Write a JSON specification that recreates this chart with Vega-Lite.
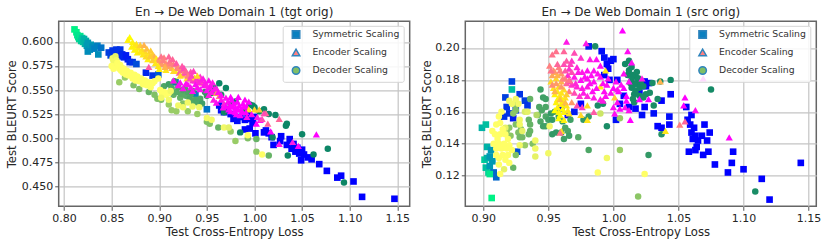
{
"$schema":"https://vega.github.io/schema/vega-lite/v6.json",
"background":"white",
"padding":{"left":5.7,"top":5.3,"right":5,"bottom":2},
"spacing":9.6,
"resolve":{"scale":{"fill":"independent","shape":"independent","color":"independent"},"legend":{"fill":"independent","shape":"independent"}},
"config":{"font":"DejaVu Sans",
"view":{"stroke":"#666666","strokeWidth":1.5},
"axis":{"grid":true,"gridColor":"#c4c4c4","gridWidth":1.2,"domain":false,"tickColor":"#555555","tickSize":4,"labelFontSize":11,"labelColor":"#262626","titleFontSize":11.7,"titleFontWeight":"normal","titleColor":"#262626","labelPadding":2},
"title":{"fontSize":12,"fontWeight":"normal","color":"#262626","offset":2},
"legend":{"orient":"none","labelFontSize":9.3,"labelColor":"#333333","title":null,"symbolSize":56,"rowPadding":4,"fillColor":"rgba(255,255,255,0.85)","strokeColor":"#d5d5d5","padding":4,"cornerRadius":2,"labelOffset":11.7,"symbolOffset":4.7}},
"datasets":{
"aS":[{"x":0.811,"y":0.613,"t":0.95},{"x":0.813,"y":0.61,"t":0.95},{"x":0.814,"y":0.607,"t":0.9},{"x":0.815,"y":0.605,"t":0.9},{"x":0.816,"y":0.603,"t":0.85},{"x":0.817,"y":0.606,"t":0.9},{"x":0.818,"y":0.601,"t":0.8},{"x":0.819,"y":0.604,"t":0.8},{"x":0.82,"y":0.6,"t":0.75},{"x":0.821,"y":0.603,"t":0.7},{"x":0.822,"y":0.598,"t":0.7},{"x":0.823,"y":0.601,"t":0.7},{"x":0.824,"y":0.596,"t":0.6},{"x":0.825,"y":0.599,"t":0.6},{"x":0.825,"y":0.59,"t":0.55},{"x":0.827,"y":0.592,"t":0.55},{"x":0.828,"y":0.597,"t":0.6},{"x":0.83,"y":0.595,"t":0.55},{"x":0.832,"y":0.593,"t":0.5},{"x":0.835,"y":0.596,"t":0.5},{"x":0.836,"y":0.587,"t":0.55},{"x":0.839,"y":0.594,"t":0.45},{"x":0.847,"y":0.589,"t":0.25},{"x":0.849,"y":0.586,"t":0.25},{"x":0.851,"y":0.591,"t":0.2},{"x":0.853,"y":0.588,"t":0.2},{"x":0.855,"y":0.592,"t":0.2},{"x":0.857,"y":0.589,"t":0.2},{"x":0.859,"y":0.592,"t":0.2},{"x":0.858,"y":0.585,"t":0.15},{"x":0.861,"y":0.587,"t":0.15},{"x":0.863,"y":0.584,"t":0.15},{"x":0.865,"y":0.586,"t":0.1},{"x":0.867,"y":0.582,"t":0.1},{"x":0.869,"y":0.579,"t":0.15},{"x":0.872,"y":0.579,"t":0.2},{"x":0.876,"y":0.577,"t":0.3},{"x":0.886,"y":0.568,"t":0.15},{"x":0.893,"y":0.565,"t":0.2},{"x":0.899,"y":0.566,"t":0.35},{"x":0.917,"y":0.558,"t":0.4},{"x":0.95,"y":0.53,"t":0.45},{"x":0.938,"y":0.546,"t":0.5},{"x":0.963,"y":0.534,"t":0.05},{"x":0.965,"y":0.529,"t":0.05},{"x":0.968,"y":0.527,"t":0.02},{"x":0.972,"y":0.53,"t":0.05},{"x":0.975,"y":0.525,"t":0.02},{"x":0.978,"y":0.52,"t":0.02},{"x":0.982,"y":0.518,"t":0.05},{"x":0.985,"y":0.522,"t":0.05},{"x":0.988,"y":0.527,"t":0},{"x":0.99,"y":0.519,"t":0},{"x":0.993,"y":0.524,"t":0.02},{"x":0.996,"y":0.52,"t":0},{"x":0.998,"y":0.516,"t":0},{"x":1.0,"y":0.522,"t":0},{"x":0.99,"y":0.509,"t":0},{"x":0.995,"y":0.51,"t":0},{"x":1.001,"y":0.505,"t":0},{"x":1.01,"y":0.506,"t":0},{"x":1.012,"y":0.508,"t":0.02},{"x":1.015,"y":0.505,"t":0},{"x":1.018,"y":0.501,"t":0},{"x":1.02,"y":0.493,"t":0},{"x":1.027,"y":0.497,"t":0},{"x":1.028,"y":0.502,"t":0},{"x":1.034,"y":0.493,"t":0},{"x":1.037,"y":0.499,"t":0},{"x":1.039,"y":0.489,"t":0},{"x":1.041,"y":0.494,"t":0},{"x":1.043,"y":0.486,"t":0},{"x":1.045,"y":0.49,"t":0},{"x":1.047,"y":0.484,"t":0},{"x":1.049,"y":0.477,"t":0},{"x":1.05,"y":0.488,"t":0},{"x":1.052,"y":0.483,"t":0},{"x":1.056,"y":0.48,"t":0},{"x":1.06,"y":0.478,"t":0},{"x":1.068,"y":0.473,"t":0},{"x":1.076,"y":0.466,"t":0},{"x":1.087,"y":0.459,"t":0},{"x":1.091,"y":0.461,"t":0},{"x":1.104,"y":0.455,"t":0},{"x":1.113,"y":0.439,"t":0},{"x":1.147,"y":0.437,"t":0}],
"aD":[{"x":0.915,"y":0.545,"t":0.4},{"x":0.922,"y":0.542,"t":0.4},{"x":0.927,"y":0.551,"t":0.3},{"x":0.933,"y":0.545,"t":0.3},{"x":0.936,"y":0.538,"t":0.35},{"x":0.943,"y":0.541,"t":0.3},{"x":0.95,"y":0.544,"t":0.2},{"x":0.958,"y":0.552,"t":0.1},{"x":0.965,"y":0.545,"t":0.1},{"x":0.975,"y":0.535,"t":0.1},{"x":1.0,"y":0.532,"t":0.05},{"x":0.905,"y":0.554,"t":0.3},{"x":0.91,"y":0.556,"t":0.25},{"x":0.913,"y":0.552,"t":0.3},{"x":0.916,"y":0.559,"t":0.2},{"x":0.918,"y":0.548,"t":0.35},{"x":0.92,"y":0.553,"t":0.3},{"x":0.923,"y":0.546,"t":0.35},{"x":0.925,"y":0.55,"t":0.3},{"x":0.928,"y":0.544,"t":0.35},{"x":0.93,"y":0.548,"t":0.3},{"x":0.932,"y":0.541,"t":0.3},{"x":0.935,"y":0.549,"t":0.25},{"x":0.938,"y":0.54,"t":0.3},{"x":0.94,"y":0.537,"t":0.3},{"x":0.945,"y":0.536,"t":0.25},{"x":0.948,"y":0.548,"t":0.2},{"x":0.955,"y":0.547,"t":0.15},{"x":0.963,"y":0.557,"t":0.05},{"x":0.97,"y":0.552,"t":0.05},{"x":0.968,"y":0.527,"t":0.05},{"x":0.98,"y":0.538,"t":0.05},{"x":0.985,"y":0.506,"t":0.05},{"x":0.99,"y":0.53,"t":0.05},{"x":0.995,"y":0.535,"t":0.05},{"x":0.998,"y":0.534,"t":0.05},{"x":1.005,"y":0.528,"t":0.05},{"x":1.01,"y":0.53,"t":0.05},{"x":1.015,"y":0.525,"t":0.05},{"x":1.022,"y":0.524,"t":0.05},{"x":1.033,"y":0.513,"t":0.05},{"x":1.034,"y":0.515,"t":0.05},{"x":1.05,"y":0.504,"t":0.05},{"x":1.077,"y":0.489,"t":0.05},{"x":1.062,"y":0.483,"t":0.05},{"x":1.035,"y":0.482,"t":0.05},{"x":1.019,"y":0.501,"t":0.05},{"x":1.094,"y":0.454,"t":0.05},{"x":0.858,"y":0.558,"t":0.6},{"x":0.864,"y":0.563,"t":0.6},{"x":0.873,"y":0.555,"t":0.5},{"x":0.879,"y":0.551,"t":0.5},{"x":0.889,"y":0.548,"t":0.4},{"x":0.895,"y":0.545,"t":0.5},{"x":0.898,"y":0.541,"t":0.5},{"x":0.902,"y":0.54,"t":0.5},{"x":0.91,"y":0.535,"t":0.6},{"x":0.913,"y":0.529,"t":0.6},{"x":0.918,"y":0.528,"t":0.6},{"x":0.925,"y":0.536,"t":0.5},{"x":0.93,"y":0.528,"t":0.6},{"x":0.94,"y":0.525,"t":0.6},{"x":0.95,"y":0.517,"t":0.5},{"x":0.953,"y":0.515,"t":0.5},{"x":0.962,"y":0.511,"t":0.4},{"x":0.975,"y":0.507,"t":0.6},{"x":0.98,"y":0.497,"t":0.6},{"x":0.993,"y":0.5,"t":0.5},{"x":1.002,"y":0.486,"t":0.55},{"x":1.002,"y":0.499,"t":0.4},{"x":1.015,"y":0.482,"t":0.4},{"x":0.92,"y":0.534,"t":0.95},{"x":0.925,"y":0.532,"t":0.95},{"x":0.93,"y":0.537,"t":0.95},{"x":0.935,"y":0.533,"t":0.95},{"x":0.942,"y":0.532,"t":0.95},{"x":0.95,"y":0.521,"t":0.95},{"x":0.955,"y":0.519,"t":0.95},{"x":0.968,"y":0.511,"t":0.95},{"x":0.973,"y":0.511,"t":0.9},{"x":0.993,"y":0.503,"t":1},{"x":1.008,"y":0.483,"t":1},{"x":0.851,"y":0.583,"t":0.95},{"x":0.852,"y":0.58,"t":0.95},{"x":0.853,"y":0.577,"t":0.95},{"x":0.85,"y":0.575,"t":1},{"x":0.854,"y":0.585,"t":0.9},{"x":0.855,"y":0.581,"t":0.95},{"x":0.856,"y":0.578,"t":1},{"x":0.852,"y":0.572,"t":1},{"x":0.857,"y":0.575,"t":1},{"x":0.858,"y":0.572,"t":1},{"x":0.859,"y":0.576,"t":1},{"x":0.86,"y":0.57,"t":1},{"x":0.861,"y":0.573,"t":1},{"x":0.862,"y":0.568,"t":1},{"x":0.863,"y":0.572,"t":1},{"x":0.864,"y":0.569,"t":1},{"x":0.865,"y":0.566,"t":1},{"x":0.866,"y":0.57,"t":1},{"x":0.868,"y":0.565,"t":1},{"x":0.87,"y":0.568,"t":1},{"x":0.872,"y":0.562,"t":1},{"x":0.874,"y":0.566,"t":1},{"x":0.875,"y":0.56,"t":1},{"x":0.877,"y":0.564,"t":1},{"x":0.879,"y":0.559,"t":1},{"x":0.881,"y":0.562,"t":1},{"x":0.883,"y":0.556,"t":1},{"x":0.885,"y":0.56,"t":1},{"x":0.887,"y":0.555,"t":1},{"x":0.889,"y":0.558,"t":1},{"x":0.891,"y":0.553,"t":1},{"x":0.893,"y":0.557,"t":1},{"x":0.895,"y":0.559,"t":1},{"x":0.899,"y":0.562,"t":1},{"x":0.901,"y":0.55,"t":1},{"x":0.903,"y":0.546,"t":1},{"x":0.905,"y":0.548,"t":1},{"x":0.907,"y":0.545,"t":1},{"x":0.91,"y":0.547,"t":1},{"x":0.912,"y":0.549,"t":0.95},{"x":0.902,"y":0.542,"t":0.95},{"x":0.91,"y":0.54,"t":0.95}],
"aE":[{"x":0.889,"y":0.574,"t":0.35},{"x":0.869,"y":0.605,"t":1},{"x":0.867,"y":0.602,"t":0.95},{"x":0.872,"y":0.6,"t":0.95},{"x":0.874,"y":0.596,"t":0.9},{"x":0.876,"y":0.598,"t":0.9},{"x":0.878,"y":0.594,"t":0.9},{"x":0.88,"y":0.597,"t":0.8},{"x":0.882,"y":0.592,"t":0.85},{"x":0.884,"y":0.597,"t":0.7},{"x":0.885,"y":0.59,"t":0.85},{"x":0.887,"y":0.593,"t":0.75},{"x":0.889,"y":0.588,"t":0.9},{"x":0.891,"y":0.591,"t":0.8},{"x":0.893,"y":0.587,"t":0.8},{"x":0.895,"y":0.585,"t":0.7},{"x":0.897,"y":0.583,"t":0.9},{"x":0.899,"y":0.581,"t":0.6},{"x":0.901,"y":0.579,"t":0.6},{"x":0.903,"y":0.577,"t":0.6},{"x":0.905,"y":0.584,"t":0.5},{"x":0.907,"y":0.578,"t":0.6},{"x":0.909,"y":0.575,"t":0.6},{"x":0.911,"y":0.58,"t":0.45},{"x":0.913,"y":0.573,"t":0.7},{"x":0.915,"y":0.577,"t":0.5},{"x":0.917,"y":0.57,"t":0.9},{"x":0.919,"y":0.574,"t":0.5},{"x":0.921,"y":0.568,"t":0.4},{"x":0.923,"y":0.571,"t":0.4},{"x":0.925,"y":0.566,"t":0.7},{"x":0.927,"y":0.568,"t":0.3},{"x":0.929,"y":0.562,"t":0.95},{"x":0.931,"y":0.566,"t":0.3},{"x":0.933,"y":0.569,"t":0.3},{"x":0.935,"y":0.56,"t":0.2},{"x":0.937,"y":0.563,"t":0.9},{"x":0.9,"y":0.572,"t":0.95},{"x":0.907,"y":0.571,"t":0.9},{"x":0.915,"y":0.57,"t":0.85},{"x":0.94,"y":0.56,"t":0.15},{"x":0.943,"y":0.564,"t":0.2},{"x":0.945,"y":0.558,"t":0.9},{"x":0.92,"y":0.555,"t":0.05},{"x":0.925,"y":0.552,"t":0.05},{"x":0.93,"y":0.556,"t":0.05},{"x":0.935,"y":0.549,"t":0.05},{"x":0.94,"y":0.553,"t":0.05},{"x":0.947,"y":0.555,"t":0.05},{"x":0.95,"y":0.55,"t":0.05},{"x":0.953,"y":0.553,"t":0.05},{"x":0.955,"y":0.548,"t":0.1},{"x":0.958,"y":0.551,"t":0.05},{"x":0.96,"y":0.547,"t":0.6},{"x":0.963,"y":0.544,"t":0.5},{"x":0.957,"y":0.54,"t":0.1},{"x":0.96,"y":0.537,"t":0.05},{"x":0.965,"y":0.54,"t":0.05},{"x":0.968,"y":0.536,"t":0.15},{"x":0.97,"y":0.542,"t":0.05},{"x":0.972,"y":0.538,"t":0.05},{"x":0.974,"y":0.534,"t":0},{"x":0.976,"y":0.54,"t":0},{"x":0.978,"y":0.536,"t":0},{"x":0.98,"y":0.532,"t":0},{"x":0.982,"y":0.538,"t":0},{"x":0.984,"y":0.534,"t":0},{"x":0.986,"y":0.53,"t":0},{"x":0.988,"y":0.536,"t":0},{"x":0.99,"y":0.54,"t":0.02},{"x":0.992,"y":0.533,"t":0},{"x":0.98,"y":0.527,"t":0},{"x":0.985,"y":0.524,"t":0},{"x":0.994,"y":0.53,"t":0.9},{"x":0.992,"y":0.522,"t":0.05},{"x":1.0,"y":0.53,"t":0.85},{"x":1.002,"y":0.515,"t":0},{"x":1.006,"y":0.519,"t":0.05},{"x":1.005,"y":0.53,"t":0.8},{"x":1.012,"y":0.526,"t":0.4},{"x":1.014,"y":0.515,"t":0.4},{"x":1.026,"y":0.52,"t":0.4},{"x":1.017,"y":0.507,"t":0},{"x":1.026,"y":0.494,"t":0.1},{"x":1.04,"y":0.496,"t":0.1},{"x":1.046,"y":0.492,"t":0},{"x":1.065,"y":0.504,"t":0},{"x":0.871,"y":0.595,"t":0.95},{"x":0.874,"y":0.592,"t":0.95},{"x":0.877,"y":0.589,"t":0.95},{"x":0.88,"y":0.59,"t":0.9},{"x":0.883,"y":0.587,"t":0.9},{"x":0.886,"y":0.585,"t":0.85},{"x":0.888,"y":0.582,"t":0.95},{"x":0.89,"y":0.585,"t":0.8},{"x":0.893,"y":0.581,"t":0.8},{"x":0.896,"y":0.578,"t":0.9},{"x":0.899,"y":0.575,"t":0.9},{"x":0.902,"y":0.585,"t":0.45},{"x":0.904,"y":0.581,"t":0.5},{"x":0.906,"y":0.574,"t":0.7},{"x":0.91,"y":0.585,"t":0.4},{"x":0.912,"y":0.578,"t":0.5},{"x":0.914,"y":0.582,"t":0.4},{"x":0.918,"y":0.578,"t":0.35},{"x":0.92,"y":0.573,"t":0.55},{"x":0.922,"y":0.565,"t":0.85},{"x":0.924,"y":0.575,"t":0.35},{"x":0.926,"y":0.573,"t":0.3},{"x":0.928,"y":0.57,"t":0.4},{"x":0.93,"y":0.565,"t":0.5},{"x":0.932,"y":0.562,"t":0.3},{"x":0.934,"y":0.565,"t":0.25},{"x":0.936,"y":0.57,"t":0.25},{"x":0.938,"y":0.56,"t":0.2},{"x":0.94,"y":0.565,"t":0.85},{"x":0.942,"y":0.558,"t":0.15},{"x":0.944,"y":0.56,"t":0.15},{"x":0.946,"y":0.562,"t":0.1},{"x":0.948,"y":0.558,"t":0.1},{"x":0.95,"y":0.555,"t":0.1},{"x":0.952,"y":0.56,"t":0.05},{"x":0.954,"y":0.555,"t":0.05},{"x":0.915,"y":0.56,"t":0.05},{"x":0.922,"y":0.558,"t":0.05},{"x":0.928,"y":0.557,"t":0.05},{"x":0.933,"y":0.553,"t":0.05},{"x":0.938,"y":0.556,"t":0.05},{"x":0.943,"y":0.551,"t":0.05},{"x":0.956,"y":0.558,"t":0.1},{"x":0.952,"y":0.545,"t":0.1},{"x":0.96,"y":0.552,"t":0.1},{"x":0.962,"y":0.548,"t":0.05},{"x":0.965,"y":0.545,"t":0.05},{"x":0.967,"y":0.532,"t":0.05},{"x":0.97,"y":0.533,"t":0},{"x":0.973,"y":0.53,"t":0},{"x":0.975,"y":0.528,"t":0},{"x":0.977,"y":0.533,"t":0},{"x":0.979,"y":0.528,"t":0},{"x":0.981,"y":0.525,"t":0},{"x":0.983,"y":0.53,"t":0},{"x":0.987,"y":0.527,"t":0},{"x":0.989,"y":0.533,"t":0},{"x":0.991,"y":0.527,"t":0},{"x":0.975,"y":0.543,"t":0},{"x":0.983,"y":0.543,"t":0},{"x":0.994,"y":0.538,"t":0.02},{"x":0.997,"y":0.525,"t":0.05},{"x":1.003,"y":0.522,"t":0.1},{"x":1.008,"y":0.52,"t":0.3},{"x":1.01,"y":0.526,"t":0.3}],
"bS":[{"x":0.899,"y":0.15,"t":0.7},{"x":0.902,"y":0.152,"t":0.75},{"x":0.903,"y":0.138,"t":0.7},{"x":0.906,"y":0.136,"t":0.6},{"x":0.901,"y":0.13,"t":0.8},{"x":0.903,"y":0.131,"t":0.7},{"x":0.905,"y":0.132,"t":0.6},{"x":0.907,"y":0.129,"t":0.6},{"x":0.902,"y":0.125,"t":0.75},{"x":0.904,"y":0.122,"t":0.8},{"x":0.905,"y":0.126,"t":0.6},{"x":0.908,"y":0.122,"t":0.4},{"x":0.91,"y":0.119,"t":0.4},{"x":0.905,"y":0.121,"t":0.9},{"x":0.9065,"y":0.106,"t":0.95},{"x":0.922,"y":0.174,"t":0.75},{"x":0.922,"y":0.179,"t":0.25},{"x":0.917,"y":0.169,"t":0.25},{"x":0.928,"y":0.171,"t":0.2},{"x":0.932,"y":0.167,"t":0.25},{"x":0.934,"y":0.164,"t":0.2},{"x":0.916,"y":0.157,"t":0.2},{"x":0.92,"y":0.159,"t":0.2},{"x":0.923,"y":0.156,"t":0.1},{"x":0.925,"y":0.161,"t":0.2},{"x":0.926,"y":0.135,"t":0.3},{"x":0.918,"y":0.163,"t":0.2},{"x":0.981,"y":0.201,"t":0.1},{"x":0.991,"y":0.198,"t":0.05},{"x":0.993,"y":0.194,"t":0.05},{"x":0.995,"y":0.19,"t":0},{"x":0.998,"y":0.192,"t":0},{"x":1.0,"y":0.193,"t":0.05},{"x":0.996,"y":0.187,"t":0},{"x":0.993,"y":0.183,"t":0},{"x":0.997,"y":0.18,"t":0},{"x":1.003,"y":0.18,"t":0},{"x":1.002,"y":0.155,"t":0.05},{"x":1.008,"y":0.17,"t":0},{"x":1.005,"y":0.165,"t":0},{"x":1.012,"y":0.163,"t":0},{"x":1.017,"y":0.162,"t":0},{"x":1.022,"y":0.158,"t":0.05},{"x":1.024,"y":0.163,"t":0},{"x":1.02,"y":0.172,"t":0},{"x":1.025,"y":0.176,"t":0},{"x":1.024,"y":0.179,"t":0},{"x":1.027,"y":0.178,"t":0},{"x":1.031,"y":0.159,"t":0.05},{"x":1.034,"y":0.151,"t":0},{"x":1.037,"y":0.15,"t":0},{"x":1.043,"y":0.152,"t":0},{"x":1.043,"y":0.157,"t":0.05},{"x":1.037,"y":0.167,"t":0},{"x":1.044,"y":0.171,"t":0},{"x":0.96,"y":0.162,"t":0.05},{"x":0.965,"y":0.158,"t":0},{"x":0.975,"y":0.165,"t":0},{"x":0.97,"y":0.16,"t":0.1},{"x":1.056,"y":0.163,"t":0},{"x":1.06,"y":0.158,"t":0},{"x":1.057,"y":0.155,"t":0},{"x":1.059,"y":0.152,"t":0},{"x":1.062,"y":0.15,"t":0},{"x":1.06,"y":0.147,"t":0},{"x":1.063,"y":0.145,"t":0},{"x":1.061,"y":0.143,"t":0},{"x":1.065,"y":0.142,"t":0},{"x":1.068,"y":0.145,"t":0},{"x":1.072,"y":0.142,"t":0},{"x":1.074,"y":0.147,"t":0},{"x":1.07,"y":0.152,"t":0},{"x":1.064,"y":0.138,"t":0},{"x":1.063,"y":0.136,"t":0},{"x":1.058,"y":0.135,"t":0},{"x":1.069,"y":0.133,"t":0},{"x":1.073,"y":0.135,"t":0},{"x":1.078,"y":0.127,"t":0},{"x":1.088,"y":0.122,"t":0},{"x":1.091,"y":0.128,"t":0},{"x":1.092,"y":0.135,"t":0},{"x":1.1,"y":0.124,"t":0},{"x":1.114,"y":0.118,"t":0},{"x":1.12,"y":0.105,"t":0},{"x":1.144,"y":0.128,"t":0}],
"bD":[{"x":1.009,"y":0.19,"t":0.08},{"x":1.011,"y":0.183,"t":0.08},{"x":1.013,"y":0.178,"t":0.08},{"x":1.017,"y":0.182,"t":0.08},{"x":1.018,"y":0.178,"t":0.08},{"x":1.021,"y":0.178,"t":0.08},{"x":1.016,"y":0.171,"t":0.08},{"x":1.02,"y":0.17,"t":0.08},{"x":1.025,"y":0.171,"t":0.1},{"x":0.958,"y":0.157,"t":0.2},{"x":0.961,"y":0.154,"t":0.2},{"x":0.967,"y":0.155,"t":0.25},{"x":0.944,"y":0.154,"t":0.3},{"x":0.986,"y":0.201,"t":0.1},{"x":1.012,"y":0.192,"t":0.08},{"x":1.014,"y":0.188,"t":0.08},{"x":1.012,"y":0.186,"t":0.08},{"x":1.015,"y":0.183,"t":0.08},{"x":1.018,"y":0.185,"t":0.08},{"x":1.014,"y":0.18,"t":0.08},{"x":1.016,"y":0.177,"t":0.08},{"x":1.019,"y":0.181,"t":0.08},{"x":1.014,"y":0.175,"t":0.08},{"x":1.017,"y":0.173,"t":0.08},{"x":1.02,"y":0.175,"t":0.08},{"x":1.023,"y":0.176,"t":0.08},{"x":1.015,"y":0.168,"t":0.1},{"x":1.023,"y":0.169,"t":0.1},{"x":1.028,"y":0.172,"t":0.1},{"x":1.03,"y":0.178,"t":0.1},{"x":1.036,"y":0.179,"t":0.1},{"x":1.044,"y":0.18,"t":0.08},{"x":1.075,"y":0.174,"t":0.08},{"x":1.034,"y":0.168,"t":0.1},{"x":1.031,"y":0.164,"t":0.1},{"x":1.016,"y":0.166,"t":0.1},{"x":0.988,"y":0.164,"t":0.1},{"x":0.992,"y":0.165,"t":0.1},{"x":0.995,"y":0.151,"t":0.1},{"x":1.037,"y":0.146,"t":0.15},{"x":1.109,"y":0.11,"t":0.1},{"x":1.027,"y":0.133,"t":0.2},{"x":0.981,"y":0.136,"t":0.3},{"x":0.973,"y":0.144,"t":0.35},{"x":0.981,"y":0.157,"t":0.2},{"x":0.977,"y":0.155,"t":0.2},{"x":0.944,"y":0.174,"t":0.25},{"x":0.946,"y":0.169,"t":0.25},{"x":0.948,"y":0.168,"t":0.25},{"x":0.936,"y":0.168,"t":0.4},{"x":0.943,"y":0.163,"t":0.3},{"x":0.945,"y":0.161,"t":0.3},{"x":0.948,"y":0.163,"t":0.3},{"x":0.942,"y":0.158,"t":0.4},{"x":0.948,"y":0.157,"t":0.3},{"x":0.952,"y":0.159,"t":0.2},{"x":0.955,"y":0.16,"t":0.2},{"x":0.95,"y":0.155,"t":0.25},{"x":0.953,"y":0.155,"t":0.2},{"x":0.946,"y":0.151,"t":0.25},{"x":0.948,"y":0.151,"t":0.25},{"x":0.935,"y":0.155,"t":0.4},{"x":0.936,"y":0.152,"t":0.4},{"x":0.936,"y":0.148,"t":0.4},{"x":0.935,"y":0.146,"t":0.4},{"x":0.953,"y":0.146,"t":0.2},{"x":0.956,"y":0.147,"t":0.2},{"x":0.96,"y":0.147,"t":0.25},{"x":0.963,"y":0.15,"t":0.3},{"x":0.965,"y":0.148,"t":0.3},{"x":0.966,"y":0.145,"t":0.25},{"x":0.962,"y":0.143,"t":0.25},{"x":0.938,"y":0.14,"t":0.5},{"x":0.929,"y":0.149,"t":0.5},{"x":0.925,"y":0.152,"t":0.5},{"x":0.927,"y":0.147,"t":0.5},{"x":0.928,"y":0.144,"t":0.45},{"x":0.93,"y":0.144,"t":0.45},{"x":0.925,"y":0.161,"t":0.5},{"x":0.925,"y":0.164,"t":0.5},{"x":0.923,"y":0.159,"t":0.55},{"x":0.92,"y":0.15,"t":0.55},{"x":0.918,"y":0.148,"t":0.55},{"x":0.921,"y":0.145,"t":0.55},{"x":0.925,"y":0.133,"t":0.5},{"x":0.923,"y":0.125,"t":0.4},{"x":0.932,"y":0.139,"t":0.6},{"x":1.005,"y":0.136,"t":0.6},{"x":1.005,"y":0.156,"t":0.6},{"x":1.019,"y":0.107,"t":0.55},{"x":0.941,"y":0.158,"t":0.7},{"x":0.99,"y":0.159,"t":0.8},{"x":0.932,"y":0.16,"t":0.85},{"x":0.934,"y":0.16,"t":0.9},{"x":0.917,"y":0.15,"t":0.9},{"x":0.92,"y":0.167,"t":0.95},{"x":0.922,"y":0.165,"t":0.95},{"x":0.925,"y":0.168,"t":0.95},{"x":0.927,"y":0.165,"t":0.95},{"x":0.928,"y":0.155,"t":0.95},{"x":0.928,"y":0.152,"t":0.95},{"x":0.93,"y":0.148,"t":0.9},{"x":0.928,"y":0.139,"t":0.95},{"x":0.914,"y":0.16,"t":1},{"x":0.912,"y":0.157,"t":1},{"x":0.91,"y":0.152,"t":1},{"x":0.913,"y":0.153,"t":1},{"x":0.907,"y":0.148,"t":1},{"x":0.909,"y":0.146,"t":1},{"x":0.911,"y":0.143,"t":1},{"x":0.913,"y":0.146,"t":1},{"x":0.915,"y":0.149,"t":1},{"x":0.917,"y":0.146,"t":1},{"x":0.919,"y":0.143,"t":1},{"x":0.908,"y":0.14,"t":1},{"x":0.91,"y":0.137,"t":1},{"x":0.912,"y":0.14,"t":1},{"x":0.914,"y":0.137,"t":1},{"x":0.916,"y":0.14,"t":1},{"x":0.918,"y":0.137,"t":1},{"x":0.92,"y":0.139,"t":1},{"x":0.922,"y":0.136,"t":1},{"x":0.91,"y":0.133,"t":1},{"x":0.912,"y":0.131,"t":1},{"x":0.915,"y":0.133,"t":1},{"x":0.917,"y":0.13,"t":1},{"x":0.919,"y":0.133,"t":1},{"x":0.912,"y":0.127,"t":1},{"x":0.916,"y":0.124,"t":0.9},{"x":0.92,"y":0.128,"t":1},{"x":0.913,"y":0.121,"t":1},{"x":0.94,"y":0.142,"t":0.95},{"x":0.94,"y":0.137,"t":0.95},{"x":0.94,"y":0.132,"t":0.9},{"x":0.95,"y":0.134,"t":0.95},{"x":0.951,"y":0.151,"t":0.95},{"x":0.995,"y":0.131,"t":0.95},{"x":0.988,"y":0.122,"t":1},{"x":1.024,"y":0.121,"t":1}],
"bE":[{"x":1.007,"y":0.211,"t":0},{"x":0.964,"y":0.204,"t":0.1},{"x":0.979,"y":0.203,"t":0.1},{"x":1.011,"y":0.198,"t":0.05},{"x":0.956,"y":0.198,"t":0.45},{"x":0.962,"y":0.198,"t":0.4},{"x":0.97,"y":0.197,"t":0.3},{"x":0.975,"y":0.194,"t":0.2},{"x":0.953,"y":0.196,"t":0.45},{"x":0.968,"y":0.192,"t":0.2},{"x":0.982,"y":0.193,"t":0.1},{"x":0.987,"y":0.193,"t":0.05},{"x":1.014,"y":0.191,"t":0.05},{"x":0.951,"y":0.189,"t":0.5},{"x":0.958,"y":0.188,"t":0.5},{"x":0.962,"y":0.19,"t":0.3},{"x":0.966,"y":0.187,"t":0.2},{"x":0.972,"y":0.188,"t":0.15},{"x":0.976,"y":0.185,"t":0.1},{"x":0.98,"y":0.186,"t":0.05},{"x":0.985,"y":0.186,"t":0.05},{"x":0.99,"y":0.189,"t":0.05},{"x":0.994,"y":0.186,"t":0.9},{"x":1.008,"y":0.184,"t":0.05},{"x":0.955,"y":0.185,"t":0.7},{"x":0.96,"y":0.184,"t":0.6},{"x":0.965,"y":0.183,"t":0.15},{"x":0.97,"y":0.182,"t":0.1},{"x":0.975,"y":0.18,"t":0.05},{"x":0.98,"y":0.181,"t":0.05},{"x":0.985,"y":0.179,"t":0.05},{"x":0.99,"y":0.182,"t":0.05},{"x":0.995,"y":0.177,"t":0.05},{"x":1.0,"y":0.175,"t":0},{"x":1.002,"y":0.179,"t":0.05},{"x":1.012,"y":0.179,"t":0.05},{"x":1.022,"y":0.181,"t":0.1},{"x":1.069,"y":0.181,"t":0},{"x":1.036,"y":0.179,"t":0.7},{"x":0.952,"y":0.179,"t":0.85},{"x":0.956,"y":0.181,"t":0.85},{"x":0.96,"y":0.179,"t":0.7},{"x":0.964,"y":0.178,"t":0.4},{"x":0.968,"y":0.177,"t":0.2},{"x":0.972,"y":0.176,"t":0.15},{"x":0.976,"y":0.175,"t":0.1},{"x":0.98,"y":0.176,"t":0.1},{"x":0.984,"y":0.173,"t":0.05},{"x":0.99,"y":0.176,"t":0.95},{"x":0.993,"y":0.173,"t":0.05},{"x":0.998,"y":0.172,"t":0.05},{"x":1.004,"y":0.173,"t":0},{"x":1.01,"y":0.17,"t":0},{"x":0.954,"y":0.175,"t":0.9},{"x":0.958,"y":0.176,"t":0.85},{"x":0.962,"y":0.174,"t":0.85},{"x":0.966,"y":0.173,"t":0.5},{"x":0.97,"y":0.172,"t":0.3},{"x":0.974,"y":0.17,"t":0.2},{"x":0.98,"y":0.17,"t":0.15},{"x":0.985,"y":0.169,"t":0.1},{"x":0.99,"y":0.168,"t":0.1},{"x":0.994,"y":0.17,"t":0.05},{"x":1.001,"y":0.169,"t":0.8},{"x":1.01,"y":0.167,"t":0},{"x":1.02,"y":0.168,"t":0},{"x":1.027,"y":0.168,"t":0},{"x":1.055,"y":0.169,"t":0},{"x":0.955,"y":0.171,"t":0.95},{"x":0.959,"y":0.17,"t":0.9},{"x":0.963,"y":0.169,"t":0.9},{"x":0.956,"y":0.166,"t":0.95},{"x":0.96,"y":0.165,"t":0.9},{"x":0.964,"y":0.164,"t":0.9},{"x":0.968,"y":0.166,"t":0.6},{"x":0.972,"y":0.164,"t":0.3},{"x":0.976,"y":0.163,"t":0.2},{"x":0.98,"y":0.164,"t":0.85},{"x":1.0,"y":0.163,"t":0.05},{"x":1.005,"y":0.162,"t":0},{"x":1.012,"y":0.161,"t":0.05},{"x":1.054,"y":0.164,"t":0},{"x":1.063,"y":0.161,"t":0.05},{"x":0.955,"y":0.161,"t":1},{"x":0.958,"y":0.16,"t":0.95},{"x":0.962,"y":0.16,"t":0.95},{"x":0.966,"y":0.159,"t":0.9},{"x":0.975,"y":0.158,"t":0.85},{"x":0.985,"y":0.16,"t":0.35},{"x":1.001,"y":0.159,"t":0.05},{"x":1.013,"y":0.155,"t":0},{"x":0.958,"y":0.156,"t":1},{"x":0.962,"y":0.155,"t":0.95},{"x":0.98,"y":0.155,"t":0.9},{"x":1.055,"y":0.154,"t":0.4},{"x":1.051,"y":0.152,"t":0.5},{"x":1.04,"y":0.148,"t":0.9},{"x":0.96,"y":0.148,"t":0.85},{"x":0.959,"y":0.147,"t":0.45},{"x":1.089,"y":0.144,"t":0},{"x":0.967,"y":0.19,"t":0.25},{"x":0.973,"y":0.185,"t":0.1},{"x":0.978,"y":0.182,"t":0.05},{"x":0.983,"y":0.183,"t":0.05},{"x":0.988,"y":0.184,"t":0.05},{"x":0.992,"y":0.178,"t":0.05},{"x":0.996,"y":0.181,"t":0.05},{"x":0.967,"y":0.179,"t":0.3},{"x":0.971,"y":0.178,"t":0.15},{"x":0.977,"y":0.172,"t":0.1},{"x":0.982,"y":0.178,"t":0.05},{"x":0.987,"y":0.175,"t":0.05},{"x":0.992,"y":0.167,"t":0.1},{"x":0.953,"y":0.183,"t":0.65},{"x":0.957,"y":0.183,"t":0.7},{"x":0.961,"y":0.181,"t":0.55},{"x":0.954,"y":0.186,"t":0.55},{"x":0.959,"y":0.186,"t":0.5},{"x":0.963,"y":0.186,"t":0.35},{"x":0.957,"y":0.173,"t":0.9},{"x":0.96,"y":0.172,"t":0.9},{"x":0.964,"y":0.171,"t":0.8},{"x":0.957,"y":0.168,"t":0.95},{"x":0.961,"y":0.167,"t":0.95},{"x":0.957,"y":0.163,"t":0.95},{"x":0.961,"y":0.162,"t":1},{"x":0.965,"y":0.161,"t":0.9},{"x":0.959,"y":0.158,"t":1},{"x":1.006,"y":0.177,"t":0.05},{"x":1.003,"y":0.174,"t":0.05},{"x":1.008,"y":0.175,"t":0},{"x":1.003,"y":0.166,"t":0.05},{"x":1.009,"y":0.163,"t":0.05},{"x":0.953,"y":0.177,"t":0.55},{"x":0.956,"y":0.178,"t":0.6},{"x":0.96,"y":0.176,"t":0.6},{"x":0.963,"y":0.181,"t":0.5},{"x":0.966,"y":0.18,"t":0.45},{"x":0.955,"y":0.173,"t":0.7},{"x":0.959,"y":0.168,"t":0.75},{"x":0.963,"y":0.166,"t":0.75},{"x":0.957,"y":0.19,"t":0.4},{"x":0.952,"y":0.186,"t":0.45},{"x":0.964,"y":0.192,"t":0.35},{"x":0.968,"y":0.185,"t":0.3}]
},
"hconcat":[
{"title":"En → De Web Domain 1 (tgt orig)","width":351,"height":185,
"resolve":{"scale":{"color":"independent"}},
"encoding":{"x":{"field":"x","type":"quantitative","title":"Test Cross-Entropy Loss","scale":{"domain":[0.7944,1.163],"nice":false,"zero":false},"axis":{"values":[0.8,0.85,0.9,0.95,1.0,1.05,1.1,1.15],"format":".2f","titlePadding":3}},
"y":{"field":"y","type":"quantitative","title":"Test BLEURT Score","scale":{"domain":[0.4292,0.6214],"nice":false,"zero":false},"axis":{"values":[0.45,0.475,0.5,0.525,0.55,0.575,0.6],"format":".3f","minExtent":40,"maxExtent":40,"titlePadding":1}}},
"layer":[
{"data":{"name":"aS"},"mark":{"type":"point","filled":true,"opacity":1,"shape":"square","size":44},"encoding":{"color":{"field":"t","type":"quantitative","legend":null,"scale":{"domain":[0,1],"interpolate":"rgb","range":["#0000ff","#00ff80"]}}}},
{"data":{"name":"aD"},"mark":{"type":"point","filled":true,"opacity":1,"shape":"circle","size":42},"encoding":{"color":{"field":"t","type":"quantitative","legend":null,"scale":{"domain":[0,1],"interpolate":"rgb","range":["#008066","#ffff66"]}}}},
{"data":{"name":"aE"},"mark":{"type":"point","filled":true,"opacity":1,"shape":"triangle-up","size":52},"encoding":{"color":{"field":"t","type":"quantitative","legend":null,"scale":{"domain":[0,1],"interpolate":"rgb","range":["#ff00ff","#ffff00"]}}}},
{"data":{"name":"aS"},"transform":[{"filter":"datum.t < 0"}],"mark":{"type":"point","filled":true,"opacity":1,"stroke":"#2f84bd","strokeWidth":0.8},"encoding":{
"fill":{"datum":"Symmetric Scaling","type":"nominal","scale":{"domain":["Symmetric Scaling","Encoder Scaling","Decoder Scaling"],"range":["#0a80c0","#ff7f80","#80bf66"]},"legend":{"legendX":224,"legendY":4.5}},
"shape":{"datum":"Symmetric Scaling","type":"nominal","scale":{"domain":["Symmetric Scaling","Encoder Scaling","Decoder Scaling"],"range":["square","triangle-up","circle"]},"legend":{"legendX":224,"legendY":4.5}}}}
]},
{"title":"En → De Web Domain 1 (src orig)","width":351,"height":185,
"resolve":{"scale":{"color":"independent"}},
"encoding":{"x":{"field":"x","type":"quantitative","title":"Test Cross-Entropy Loss","scale":{"domain":[0.8862,1.1559],"nice":false,"zero":false},"axis":{"values":[0.9,0.95,1.0,1.05,1.1,1.15],"format":".2f","titlePadding":3}},
"y":{"field":"y","type":"quantitative","title":"Test BLEURT Score","scale":{"domain":[0.1008,0.2167],"nice":false,"zero":false},"axis":{"values":[0.12,0.14,0.16,0.18,0.2],"format":".2f","minExtent":32,"maxExtent":32,"titlePadding":1}}},
"layer":[
{"data":{"name":"bS"},"mark":{"type":"point","filled":true,"opacity":1,"shape":"square","size":44},"encoding":{"color":{"field":"t","type":"quantitative","legend":null,"scale":{"domain":[0,1],"interpolate":"rgb","range":["#0000ff","#00ff80"]}}}},
{"data":{"name":"bD"},"mark":{"type":"point","filled":true,"opacity":1,"shape":"circle","size":42},"encoding":{"color":{"field":"t","type":"quantitative","legend":null,"scale":{"domain":[0,1],"interpolate":"rgb","range":["#008066","#ffff66"]}}}},
{"data":{"name":"bE"},"mark":{"type":"point","filled":true,"opacity":1,"shape":"triangle-up","size":52},"encoding":{"color":{"field":"t","type":"quantitative","legend":null,"scale":{"domain":[0,1],"interpolate":"rgb","range":["#ff00ff","#ffff00"]}}}},
{"data":{"name":"bS"},"transform":[{"filter":"datum.t < 0"}],"mark":{"type":"point","filled":true,"opacity":1,"stroke":"#2f84bd","strokeWidth":0.8},"encoding":{
"fill":{"datum":"Symmetric Scaling","type":"nominal","scale":{"domain":["Symmetric Scaling","Encoder Scaling","Decoder Scaling"],"range":["#0a80c0","#ff7f80","#80bf66"]},"legend":{"legendX":224,"legendY":4.5}},
"shape":{"datum":"Symmetric Scaling","type":"nominal","scale":{"domain":["Symmetric Scaling","Encoder Scaling","Decoder Scaling"],"range":["square","triangle-up","circle"]},"legend":{"legendX":224,"legendY":4.5}}}}
]}
]}
